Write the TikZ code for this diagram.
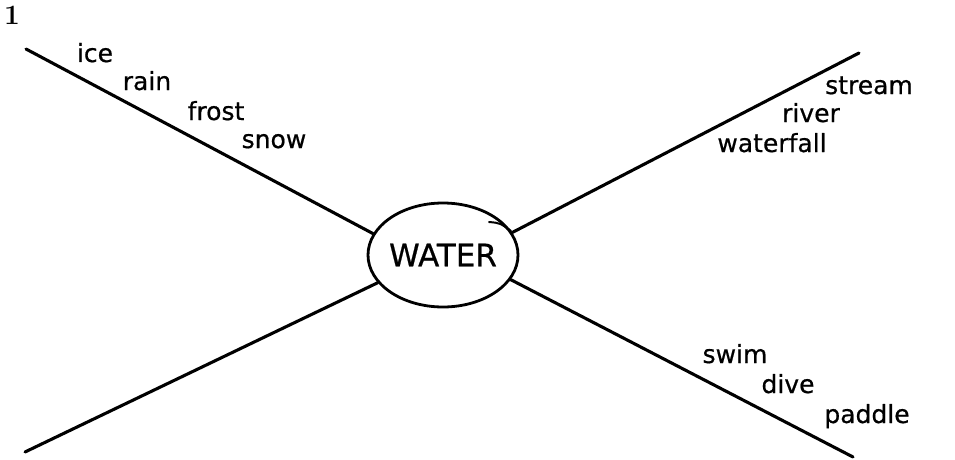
\documentclass[tikz,border=0pt]{standalone}
\usepackage{fontspec}
\newfontfamily\handfont[FakeBold=0.6]{DejaVu Sans}
\usetikzlibrary{shapes.geometric}

\begin{document}
\begin{tikzpicture}[x=1pt,y=-1pt,line cap=round,line join=round,
  word/.style={font=\handfont\fontsize{25}{25}\selectfont,anchor=base,inner sep=0pt},
  branch/.style={line width=3.1pt}]
\path[use as bounding box] (0,0) rectangle (955,460);
\node[font=\fontsize{28}{28}\selectfont\bfseries,anchor=base,inner sep=0pt] (num) at (12,25) {\textbf{1}};
% centre
\node[draw,ellipse,line width=2.8pt,minimum width=150pt,minimum height=104pt,inner sep=0pt,
  label={[font=\handfont\fontsize{31}{31}\selectfont]center:WATER}] (water) at (443,255) {};
\draw[line width=2pt] (489,222) .. controls (500,223) .. (511,231);
% branch ends
\coordinate (tl) at (26,49);
\coordinate (tr) at (859,53);
\coordinate (bl) at (25,452);
\coordinate (br) at (853,457);
\draw[branch] (tl) -- (water.163);
\draw[branch] (tr) -- (water.18);
\draw[branch] (bl) -- (water.203);
\draw[branch] (br) -- (water.340);
% words
\node[word] (ice) at (95,62) {ice};
\node[word] (rain) at (147,90) {rain};
\node[word] (frost) at (216,120) {frost};
\node[word] (snow) at (274,148) {snow};
\node[word] (stream) at (869,94) {stream};
\node[word] (river) at (811,122) {river};
\node[word] (waterfall) at (772,152) {waterfall};
\node[word] (swim) at (735,363) {swim};
\node[word] (dive) at (788,393) {dive};
\node[word] (paddle) at (867,423) {paddle};
\end{tikzpicture}
\end{document}
